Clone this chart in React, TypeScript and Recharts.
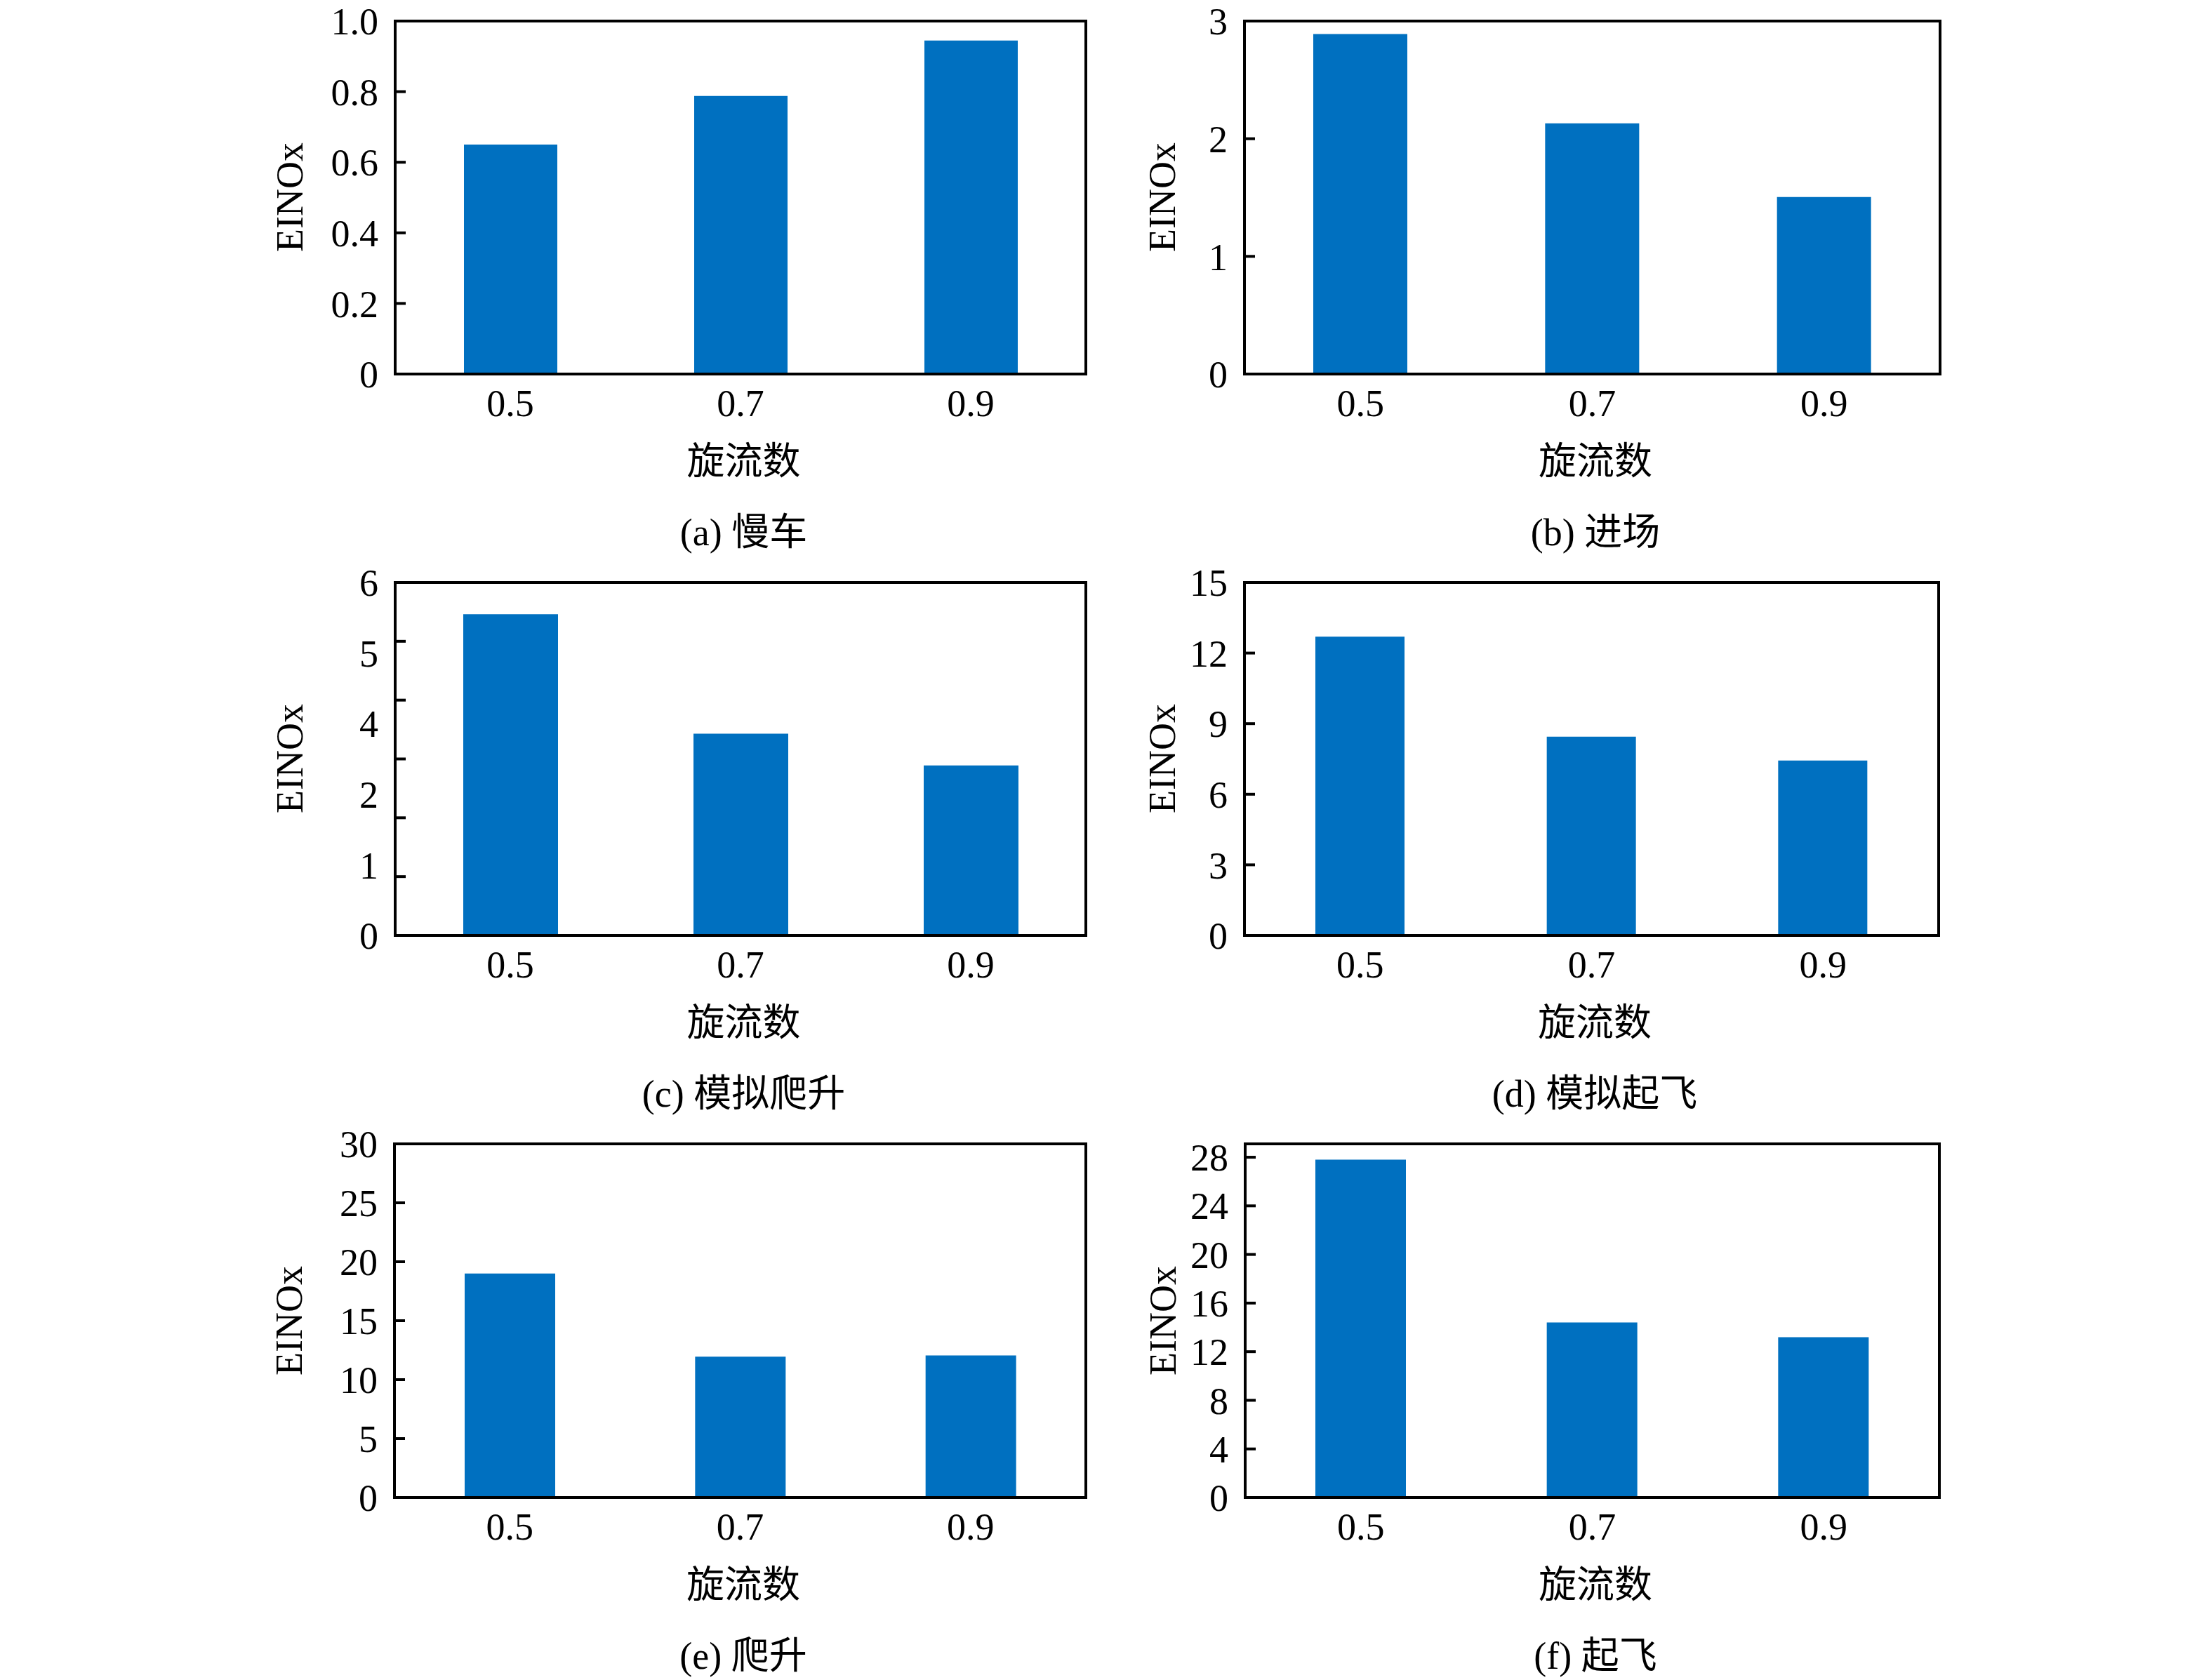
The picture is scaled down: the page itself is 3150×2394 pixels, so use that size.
import React from "react";
import { ComposedChart, Bar, Line, XAxis, YAxis } from "recharts";

// 旋流数 categories shared by all six panels
const swirl = ["0.5", "0.7", "0.9"];

// EINOx values
const idleValues = [0.65, 0.788, 0.945];
const approachValues = [2.89, 2.13, 1.505];
const simClimbValues = [5.46, 3.43, 2.89];
const simTakeoffValues = [12.7, 8.45, 7.43];
const climbValues = [19.0, 11.95, 12.05];
const takeoffValues = [27.8, 14.4, 13.2];

// y tick labels (position -> text) and inner tick marks
const idleTicks = [0, 0.2, 0.4, 0.6, 0.8, 1.0];
const idleLabels = ["0", "0.2", "0.4", "0.6", "0.8", "1.0"];
const idleMarks = [0.2, 0.4, 0.6, 0.8];

const approachTicks = [0, 1, 2, 3];
const approachLabels = ["0", "1", "2", "3"];
const approachMarks = [1, 2];

// panel (c) labels in the original do not line up with its tick marks
const simClimbTicks = [0, 1.2, 2.4, 3.6, 4.8, 6];
const simClimbLabels = ["0", "1", "2", "4", "5", "6"];
const simClimbMarks = [1, 2, 3, 4, 5];

const simTakeoffTicks = [0, 3, 6, 9, 12, 15];
const simTakeoffLabels = ["0", "3", "6", "9", "12", "15"];
const simTakeoffMarks = [3, 6, 9, 12];

const climbTicks = [0, 5, 10, 15, 20, 25, 30];
const climbLabels = ["0", "5", "10", "15", "20", "25", "30"];
const climbMarks = [5, 10, 15, 20, 25];

const takeoffTicks = [0, 4, 8, 12, 16, 20, 24, 28];
const takeoffLabels = ["0", "4", "8", "12", "16", "20", "24", "28"];
const takeoffMarks = [4, 8, 12, 16, 20, 24, 28];

const BLUE = "#0070C0";
const SERIF = "'Liberation Serif', 'Times New Roman', serif";
const CJK = "'Liberation Serif', 'Noto Sans CJK SC', serif";
const FS = 54;
const AXIS_W = 170;
const TOP_PAD = 34;
const RIGHT_PAD = 40;
const X_AXIS_H = 90;

const frame = { stroke: "#000", strokeWidth: 4, strokeLinecap: "square" as const };
const tickStyle = { fill: "#000", fontSize: FS, fontFamily: SERIF };

type Spec = {
  caption: string;
  values: number[];
  max: number;
  ticks: number[];
  labels: string[];
  marks: number[];
  left: number;
  top: number;
  w: number;
  h: number;
  barSize: number;
  titleOff: number;
};

const panels: Spec[] = [
  { caption: "(a) 慢车", values: idleValues, max: 1.0, ticks: idleTicks, labels: idleLabels, marks: idleMarks,
    left: 563, top: 29, w: 985, h: 504, barSize: 133, titleOff: -150 },
  { caption: "(b) 进场", values: approachValues, max: 3, ticks: approachTicks, labels: approachLabels, marks: approachMarks,
    left: 1773, top: 29, w: 992, h: 504, barSize: 134, titleOff: -117 },
  { caption: "(c) 模拟爬升", values: simClimbValues, max: 6, ticks: simClimbTicks, labels: simClimbLabels, marks: simClimbMarks,
    left: 563, top: 829, w: 985, h: 504, barSize: 135, titleOff: -150 },
  { caption: "(d) 模拟起飞", values: simTakeoffValues, max: 15, ticks: simTakeoffTicks, labels: simTakeoffLabels, marks: simTakeoffMarks,
    left: 1773, top: 829, w: 990, h: 504, barSize: 127, titleOff: -117 },
  { caption: "(e) 爬升", values: climbValues, max: 30, ticks: climbTicks, labels: climbLabels, marks: climbMarks,
    left: 562, top: 1629, w: 986, h: 505, barSize: 129, titleOff: -150 },
  { caption: "(f) 起飞", values: takeoffValues, max: 29.1, ticks: takeoffTicks, labels: takeoffLabels, marks: takeoffMarks,
    left: 1774, top: 1629, w: 990, h: 505, barSize: 129, titleOff: -117 },
];

// mark-only axis: draw the tick line, no text
const NoText = () => <g />;

function Label({ x, y, text, rotate, font }: { x: number; y: number; text: string; rotate?: boolean; font: string }) {
  return (
    <div
      style={{
        position: "absolute", left: x, top: y, whiteSpace: "nowrap",
        transform: `translate(-50%, -50%)${rotate ? " rotate(-90deg)" : ""}`,
        fontSize: FS, fontFamily: font, color: "#000", lineHeight: 1,
      }}
    >
      {text}
    </div>
  );
}

function Panel({ p }: { p: Spec }) {
  const data = swirl.map((x, i) => ({ x, v: p.values[i] }));
  const fmt = (v: number) => p.labels[p.ticks.indexOf(v)] ?? String(v);
  const cx = p.left + p.w / 2 + 4;
  const bottom = p.top + p.h;
  return (
    <>
      <div style={{ position: "absolute", left: p.left - AXIS_W, top: p.top - TOP_PAD }}>
        <ComposedChart
          width={p.w + AXIS_W + RIGHT_PAD}
          height={p.h + TOP_PAD + X_AXIS_H}
          data={data}
          margin={{ top: TOP_PAD, right: RIGHT_PAD, bottom: 0, left: 0 }}
        >
          <XAxis dataKey="x" height={X_AXIS_H} interval={0} tickLine={false} tickSize={0} tickMargin={22}
            axisLine={frame} tick={tickStyle} />
          <XAxis xAxisId="top" dataKey="x" orientation="top" height={1} tick={false} tickLine={false} axisLine={frame} />
          <YAxis yAxisId="v" width={AXIS_W} domain={[0, p.max]} ticks={p.ticks} interval={0} allowDataOverflow
            tickFormatter={fmt} tickLine={false} tickSize={0} tickMargin={24} axisLine={frame} tick={tickStyle} />
          <YAxis yAxisId="m" mirror width={2} domain={[0, p.max]} ticks={p.marks} interval={0} allowDataOverflow
            tick={NoText} tickSize={15} tickLine={{ stroke: "#000", strokeWidth: 4 }} axisLine={false} />
          <YAxis yAxisId="r" orientation="right" width={1} domain={[0, p.max]} allowDataOverflow
            tick={false} tickLine={false} axisLine={frame} />
          <Bar yAxisId="v" dataKey="v" fill={BLUE} barSize={p.barSize} isAnimationActive={false} />
          {/* invisible series so the frame / tick-mark axes get drawn */}
          <Line xAxisId="top" yAxisId="m" dataKey="v" stroke="none" dot={false} activeDot={false} isAnimationActive={false} />
          <Line yAxisId="r" dataKey="v" stroke="none" dot={false} activeDot={false} isAnimationActive={false} />
        </ComposedChart>
      </div>
      <Label x={p.left + p.titleOff} y={p.top + p.h / 2} text="EINOx" rotate font={SERIF} />
      <Label x={cx} y={bottom + 125} text="旋流数" font={CJK} />
      <Label x={cx} y={bottom + 226} text={p.caption} font={CJK} />
    </>
  );
}

export default function App() {
  return (
    <div style={{ position: "absolute", left: 0, top: 0, width: 3150, height: 2394, background: "#fff" }}>
      {panels.map((p) => (
        <Panel key={p.caption} p={p} />
      ))}
    </div>
  );
}
